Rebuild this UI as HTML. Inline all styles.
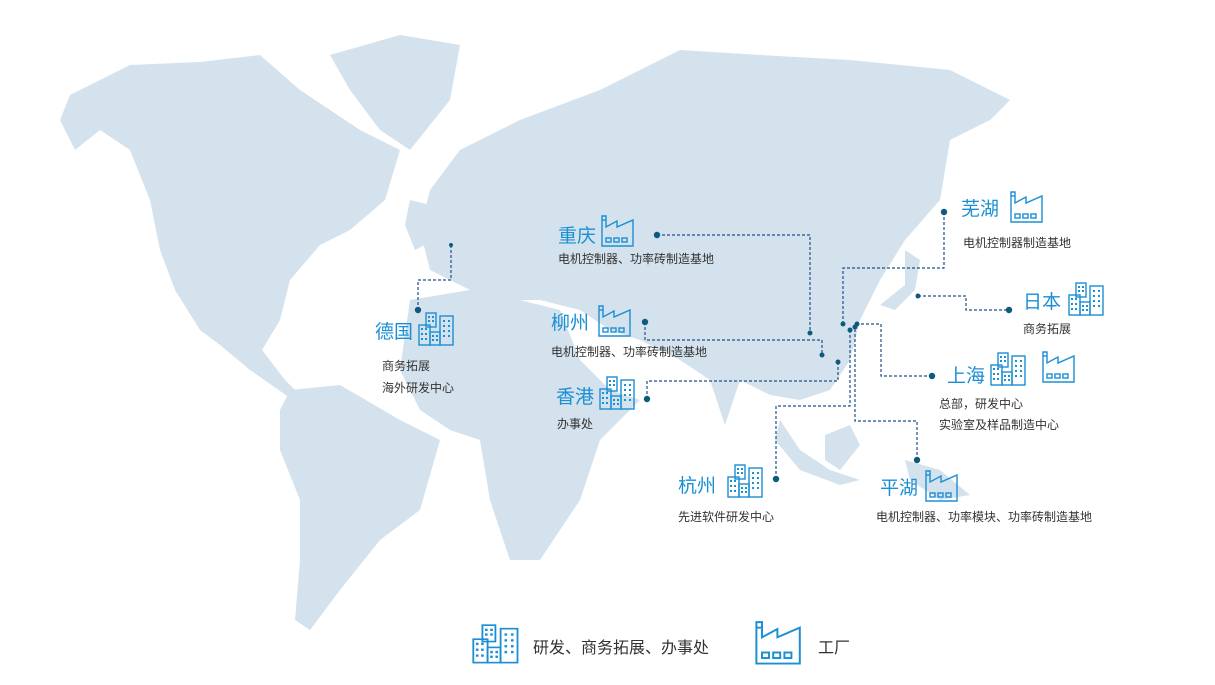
<!DOCTYPE html>
<html><head><meta charset="utf-8"><style>
body{margin:0;width:1215px;height:685px;background:#fff;overflow:hidden;font-family:"Liberation Sans","Noto Sans CJK SC",sans-serif}
svg{position:absolute;left:0;top:0}
.t{font-family:"Liberation Sans","Noto Sans CJK SC",sans-serif}
.h{fill:#1b8fd4;font-size:19px}
.d{fill:#333;font-size:12px}
</style></head><body>
<svg width="1215" height="685" viewBox="0 0 1215 685">
<defs>
<g id="bld" fill="none" stroke="#1b8fd4" stroke-width="1.4">
<rect x="8" y="1" width="10" height="14"/><rect x="1" y="13" width="11" height="20"/><rect x="12" y="20" width="10" height="13"/><rect x="22" y="4" width="13" height="29"/>
<g fill="#1b8fd4" stroke="none"><rect x="10" y="4" width="2" height="2"/><rect x="14" y="4" width="2" height="2"/><rect x="10" y="8" width="2" height="2"/><rect x="14" y="8" width="2" height="2"/>
<rect x="3" y="16" width="2" height="2"/><rect x="7" y="16" width="2" height="2"/><rect x="3" y="21" width="2" height="2"/><rect x="7" y="21" width="2" height="2"/><rect x="3" y="26" width="2" height="2"/><rect x="7" y="26" width="2" height="2"/>
<rect x="14" y="23" width="2" height="2"/><rect x="18" y="23" width="2" height="2"/><rect x="14" y="27" width="2" height="2"/><rect x="18" y="27" width="2" height="2"/>
<rect x="25" y="8" width="2" height="2"/><rect x="30" y="8" width="2" height="2"/><rect x="25" y="13" width="2" height="2"/><rect x="30" y="13" width="2" height="2"/><rect x="25" y="18" width="2" height="2"/><rect x="30" y="18" width="2" height="2"/><rect x="25" y="23" width="2" height="2"/><rect x="30" y="23" width="2" height="2"/></g>
</g>
<g id="fac" fill="none" stroke="#1b8fd4" stroke-width="1.4">
<path d="M1,33 V3 H5 V14 L16,8 V14 L32,7 V33 Z"/><line x1="1" y1="7" x2="5" y2="7"/>
<rect x="5" y="25" width="5" height="4"/><rect x="13" y="25" width="5" height="4"/><rect x="21" y="25" width="5" height="4"/>
</g>
</defs>
<g fill="#d3e2ec">
<path d="M70,95 L130,65 L200,62 L260,55 L300,90 L330,110 L360,130 L400,150 L385,200 L350,230 L320,245 L290,280 L280,320 L262,350 L285,380 L300,395 L290,398 L250,370 L220,345 L200,330 L175,290 L160,250 L150,200 L130,150 L100,130 L75,150 L60,120 Z"/>
<path d="M330,55 L400,35 L460,45 L450,100 L410,150 L380,130 L350,90 Z"/>
<path d="M290,390 L340,385 L400,420 L440,440 L420,510 L380,540 L340,590 L310,630 L295,620 L300,560 L300,500 L280,450 L280,410 Z"/>
<path d="M420,230 L430,190 L460,150 L520,120 L600,90 L680,50 L760,55 L850,60 L950,70 L1010,100 L990,120 L950,140 L940,200 L905,240 L880,280 L860,320 L850,360 L830,390 L800,400 L770,395 L740,380 L725,425 L710,380 L680,360 L640,340 L610,330 L580,310 L540,300 L500,300 L470,290 L450,280 L430,270 Z"/>
<path d="M410,300 L470,290 L520,300 L560,310 L580,360 L610,390 L640,400 L600,440 L580,500 L540,560 L510,560 L490,500 L480,440 L450,430 L420,410 L400,370 Z"/>
<path d="M780,420 L800,450 L830,470 L860,480 L840,485 L800,470 L775,440 Z"/>
<path d="M825,435 L850,425 L860,445 L840,470 L825,460 Z"/>
<path d="M905,460 L940,470 L970,495 L940,500 L910,480 Z"/>
<path d="M905,250 L920,260 L915,290 L895,310 L880,305 L905,285 Z"/>
<path d="M410,200 L430,205 L435,240 L415,250 L405,225 Z"/>
</g>
<g fill="none" stroke="#1e4f8a" stroke-width="1.2" stroke-dasharray="3,2">
<path d="M944,212 V268 H843 V324"/>
<path d="M918,296 H966 V310 H1009"/>
<path d="M657,235 H810 V333"/>
<path d="M645,322 V340 H822 V355"/>
<path d="M647,399 V381 H838 V362"/>
<path d="M776,479 V406 H850 V330"/>
<path d="M917,460 V421 H855 V327"/>
<path d="M932,376 H881 V324 H857"/>
<path d="M451,245 V280 H418 V310"/>
</g>
<g fill="#0e5a7e">
<circle cx="944" cy="212" r="3.2"/><circle cx="843" cy="324" r="2.5"/><circle cx="918" cy="296" r="2.5"/><circle cx="1009" cy="310" r="3.2"/>
<circle cx="657" cy="235" r="3.2"/><circle cx="810" cy="333" r="2.5"/><circle cx="645" cy="322" r="3.2"/><circle cx="822" cy="355" r="2.5"/>
<circle cx="647" cy="399" r="3.2"/><circle cx="838" cy="362" r="2.5"/><circle cx="776" cy="479" r="3.2"/><circle cx="850" cy="330" r="2.5"/>
<circle cx="917" cy="460" r="3.2"/><circle cx="855" cy="327" r="2.5"/><circle cx="932" cy="376" r="3.2"/><circle cx="857" cy="324" r="2.5"/>
<circle cx="451" cy="245" r="2"/><circle cx="418" cy="310" r="3.2"/>
</g>
<g class="t">
<text class="h" x="558" y="242">重庆</text><text class="d" x="558" y="263">电机控制器、功率砖制造基地</text>
<text class="h" x="551" y="329">柳州</text><text class="d" x="551" y="356">电机控制器、功率砖制造基地</text>
<text class="h" x="556" y="403">香港</text><text class="d" x="557" y="428">办事处</text>
<text class="h" x="375" y="338">德国</text><text class="d" x="382" y="370">商务拓展</text><text class="d" x="382" y="392">海外研发中心</text>
<text class="h" x="961" y="215">芜湖</text><text class="d" x="963" y="247">电机控制器制造基地</text>
<text class="h" x="1023" y="308">日本</text><text class="d" x="1023" y="333">商务拓展</text>
<text class="h" x="947" y="382">上海</text><text class="d" x="939" y="408">总部，研发中心</text><text class="d" x="939" y="429">实验室及样品制造中心</text>
<text class="h" x="678" y="492">杭州</text><text class="d" x="678" y="521">先进软件研发中心</text>
<text class="h" x="880" y="494">平湖</text><text class="d" x="876" y="521">电机控制器、功率模块、功率砖制造基地</text>
<text x="533" y="653" fill="#333" font-size="16">研发、商务拓展、办事处</text>
<text x="818" y="653" fill="#333" font-size="16">工厂</text>
</g>
<use href="#fac" x="601" y="213"/>
<use href="#fac" x="598" y="303"/>
<use href="#bld" x="599" y="376"/>
<use href="#bld" x="418" y="312"/>
<use href="#fac" x="1010" y="189"/>
<use href="#bld" x="1068" y="282"/>
<use href="#bld" x="990" y="352"/>
<use href="#fac" x="1042" y="349"/>
<use href="#bld" x="727" y="464"/>
<use href="#fac" x="925" y="468"/>
<use href="#bld" transform="translate(472,624) scale(1.3,1.17)"/>
<use href="#fac" transform="translate(755,618) scale(1.4,1.38)"/>
</svg>
</body></html>
